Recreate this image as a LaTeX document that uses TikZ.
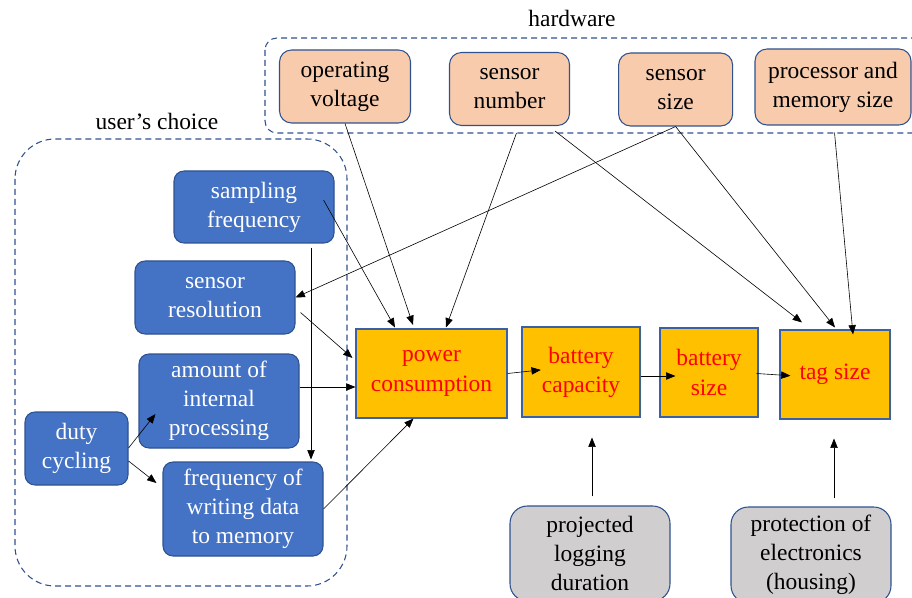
\documentclass[tikz,border=0pt]{standalone}
\usepackage{fontspec}
\setmainfont{Liberation Serif}
\usetikzlibrary{arrows.meta,calc}
\definecolor{bluefill}{HTML}{4472C4}
\definecolor{blueline}{HTML}{2F528F}
\definecolor{peach}{HTML}{F8CBAD}
\definecolor{gold}{HTML}{FFC000}
\definecolor{grayfill}{HTML}{D0CECE}
\tikzset{
  basebox/.style={align=center, inner sep=0pt, font=\fontsize{17.6}{21.8}\selectfont, line width=0.8pt},
  userbox/.style={basebox, draw=blueline, fill=bluefill, text=white, rounded corners=7.5pt},
  hwbox/.style={basebox, draw=blueline, fill=peach, text=black, rounded corners=9pt},
  keybox/.style={basebox, draw=bluefill!85!black, fill=gold, text=red},
  greybox/.style={basebox, draw=blueline, fill=grayfill, text=black, rounded corners=13pt},
  dashbox/.style={draw=blueline, line width=0.8pt, dash pattern=on 4.5pt off 3pt},
  arr/.style={-{Triangle[length=7pt,width=5.5pt]}, line width=0.45pt, black},
  lbl/.style={font=\fontsize{17.6}{21.8}\selectfont, inner sep=0pt}
}
\begin{document}
\begin{tikzpicture}[x=0.75pt,y=-0.75pt]
\useasboundingbox (0,0) rectangle (912,598);
\clip (0,0) rectangle (912,598);

% group frames
\draw[dashbox, rounded corners=9pt] (265,38) rectangle (925,133);
\draw[dashbox, rounded corners=30pt] (15,139) rectangle (347,586);
\node[lbl] (hwlabel) at (572,18) {hardware};
\node[lbl] (uclabel) at (157,121) {user's choice};

% hardware
\node[hwbox, minimum width=98.25pt, minimum height=54.75pt] (ov) at (345,86.5) {operating\\voltage};
\node[hwbox, minimum width=90pt, minimum height=54.75pt] (sn) at (509.5,89) {sensor\\number};
\node[hwbox, minimum width=85.5pt, minimum height=54.75pt] (ss) at (675.6,89.5) {sensor\\size};
\node[hwbox, minimum width=117pt, minimum height=57pt] (pm) at (833,87) {processor and\\memory size};

% user's choice
\node[userbox, minimum width=120pt, minimum height=54pt] (sf) at (254,207) {sampling\\frequency};
\node[userbox, minimum width=120pt, minimum height=54.75pt] (sr) at (215,297.5) {sensor\\resolution};
\node[userbox, minimum width=120pt, minimum height=70.5pt] (aip) at (219,401) {amount of\\internal\\processing};
\node[userbox, minimum width=120pt, minimum height=70.5pt] (fw) at (243,509) {frequency of\\writing data\\to memory};
\node[userbox, minimum width=77.25pt, minimum height=54.75pt] (dc) at (76.5,448.5) {duty\\cycling};

% main chain
\node[keybox, minimum width=113.25pt, minimum height=66.75pt] (pc) at (431.5,373.5) {power\\consumption};
\node[keybox, minimum width=88.5pt, minimum height=67.5pt] (bc) at (581,372) {battery\\capacity};
\node[keybox, minimum width=73.5pt, minimum height=66.75pt] (bs) at (709,372.5) {battery\\size};
\node[keybox, minimum width=82.5pt, minimum height=66.75pt] (tag) at (835,374.5) {tag size};

% grey inputs
\node[greybox, minimum width=120pt, minimum height=71.25pt] (pld) at (590,553.5) {projected\\logging\\duration};
\node[greybox, minimum width=120pt, minimum height=72pt] (poe) at (811,555) {protection of\\electronics\\(housing)};

% connectors
\draw[arr] ($(ov.south)$) -- ($(pc.north)+(-18.5,-3.5)$);
\draw[arr] ($(sf.east)+(-11,-7)$) -- ($(pc.north)+(-36.5,-1)$);
\draw[arr] ($(sn.south)+(7,7)$) -- ($(pc.north)+(14.5,-1)$);
\draw[arr] ($(sn.south)+(45.5,5)$) -- ($(tag.north)+(-33,-7)$);
\draw[arr] (ss.south) -- (sr.east);
\draw[arr] (ss.south) -- ($(tag.north)+(0,-2)$);
\draw[arr] ($(pm.south)+(1.5,7)$) -- ($(tag.north)+(18,5)$);
\draw[arr] ($(sr.east)+(5,15)$) -- ($(pc.west)+(-3,-15.5)$);
\draw[arr] ($(aip.east)+(0,-14)$) -- ($(pc.west)+(0,13.5)$);
\draw[arr] (fw.east) -- ($(pc.south)+(-18,0)$);
\draw[arr] ($(sf.south)+(57,4)$) -- ($(fw.north)+(68,-2)$);
\draw[arr] ($(dc.east)+(0,-0.5)$) -- ($(aip.west)+(17,13)$);
\draw[arr] ($(dc.east)+(0,12.5)$) -- ($(fw.west)+(-6,-26)$);
\draw[arr, shorten >=-14.6pt] (pc.east) -- (bc.west);
\draw[arr, shorten >=-12pt] ($(bc.east)+(0,4)$) -- ($(bs.west)+(0,3.5)$);
\draw[arr, shorten >=-8.25pt] ($(bs.east)+(-2,1)$) -- ($(tag.west)+(0,0.5)$);
\draw[arr] ($(pld.north)+(2,-9)$) -- ($(bc.south)+(11,20)$);
\draw[arr] ($(poe.north)+(23,-8)$) -- ($(tag.south)+(-1,19)$);
\end{tikzpicture}
\end{document}
